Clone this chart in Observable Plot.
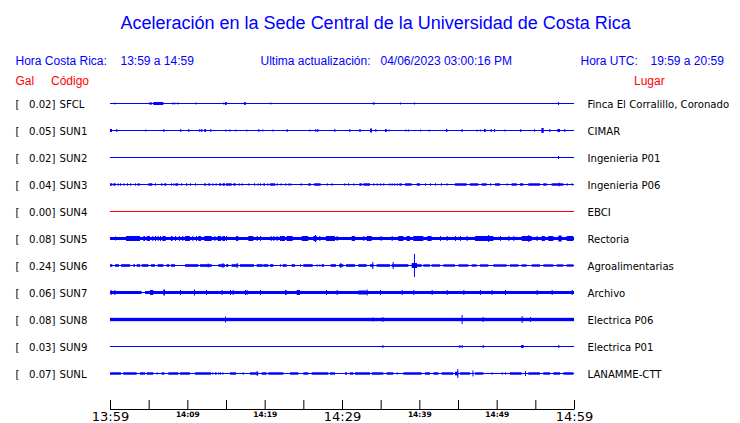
<!DOCTYPE html>
<html><head><meta charset="utf-8">
<script src="https://cdn.jsdelivr.net/npm/d3@7"></script>
<script src="https://cdn.jsdelivr.net/npm/@observablehq/plot@0.6"></script>
<style>
body{margin:0;background:#fff;}
#wrap{position:relative;width:740px;height:423px;overflow:hidden;background:#fff;}
#wrap svg{position:absolute;left:0;top:0;}
.h{position:absolute;white-space:nowrap;font-family:"Liberation Sans",Arial,sans-serif;color:#0000ff;font-size:12px;line-height:1;}
.r{color:#ff0000;}
</style></head><body>
<div id="wrap"></div>
<script>
// ---------- texts ----------
const titleText = "Aceleración en la Sede Central de la Universidad de Costa Rica";
const headerTexts = ["Hora Costa Rica:", "13:59 a 14:59", "Ultima actualización:", "04/06/2023 03:00:16 PM", "Hora UTC:", "19:59 a 20:59"];
const columnTexts = ["Gal", "Código", "Lugar"];

// ---------- stations ----------
const codes  = ["SFCL","SUN1","SUN2","SUN3","SUN4","SUN5","SUN6","SUN7","SUN8","SUN9","SUNL"];
const places = ["Finca El Corralillo, Coronado","CIMAR","Ingenieria P01","Ingenieria P06","EBCI","Rectoria","Agroalimentarias","Archivo","Electrica P06","Electrica P01","LANAMME-CTT"];
const peaks  = [0.02,0.05,0.02,0.04,0.00,0.08,0.24,0.06,0.08,0.03,0.07];

// ---------- time axis (minutes after 13:59) ----------
const tickMinutes = [0,5,10,15,20,25,30,35,40,45,50,55,60];
const majorMinutes = [0,30,60];
const majorLabels = ["13:59","14:29","14:59"];
const minorMinutes = [10,20,40,50];
const minorLabels = ["14:09","14:19","14:39","14:49"];

// ---------- traces: spikes [minute, gal] and bursts [from, to, gal] ----------
const spikesSFCL = [[0.56,0.011],[5.1,0.02],[5.26,0.02],[8.06,0.011],[8.28,0.011],[8.7,0.011],[11.08,0.011],[14.65,0.011],[20.73,0.011],[34.05,0.022],[37.5,0.011],[39.31,0.011],[57.93,0.022]];
const burstsSFCL = [[5.6,6.9,0.022],[14.87,15.09,0.022],[17.33,17.55,0.022]];

const spikesSUN1 = [[0.82,0.022],[4.57,0.011],[6.9,0.022],[9.09,0.022],[10.13,0.022],[11.55,0.022],[11.81,0.022],[12.97,0.022],[14.91,0.011],[15.43,0.011],[16.2,0.011],[17.63,0.011],[19.18,0.022],[19.7,0.011],[20.99,0.011],[25.78,0.011],[26.55,0.022],[26.81,0.022],[29.01,0.022],[30.95,0.022],[34.31,0.022],[36.03,0.011],[38.19,0.011],[38.53,0.011],[40.09,0.011],[41.21,0.011],[45.47,0.022],[47.41,0.011],[47.84,0.011],[49.22,0.022],[49.66,0.022],[50.99,0.011],[53.06,0.022],[54.83,0.015],[56.81,0.022],[58.75,0.022]];
const burstsSUN1 = [[0,0.26,0.022],[12.2,12.41,0.022],[22.84,22.97,0.022],[32.24,32.41,0.022],[33.62,33.88,0.033],[35.56,35.78,0.022],[43.45,43.62,0.022],[48.36,48.58,0.022],[55.78,56.08,0.044],[57.84,58.19,0.022]];

const spikesSUN2 = [[57.93,0.022]];
const burstsSUN2 = [];

const spikesSUN3 = [[0.99,0.016],[1.29,0.016],[2.2,0.016],[3.23,0.016],[5.82,0.016],[7.89,0.016],[8.19,0.016],[9.18,0.016],[10.34,0.016],[10.99,0.016],[13.23,0.016],[13.66,0.016],[16.64,0.016],[17.03,0.016],[17.89,0.016],[18.62,0.016],[19.09,0.016],[19.4,0.016],[20.34,0.016],[21.55,0.016],[22.67,0.016],[23.06,0.016],[23.32,0.016],[24.66,0.016],[28.02,0.016],[28.66,0.016],[30.3,0.016],[30.78,0.016],[31.47,0.016],[34.05,0.016],[34.48,0.016],[34.91,0.016],[35.34,0.016],[36.12,0.016],[36.42,0.016],[36.72,0.016],[37.07,0.016],[40.73,0.016],[41.38,0.016],[42.03,0.016],[42.8,0.016],[43.53,0.016],[49.14,0.016],[51.29,0.016],[58.02,0.03],[59.05,0.016],[59.7,0.016]];
const burstsSUN3 = [[0,0.3,0.016],[0.43,0.73,0.016],[1.72,1.85,0.016],[2.59,2.72,0.016],[3.58,3.84,0.016],[4.96,5.47,0.016],[6.59,6.77,0.016],[7.03,7.28,0.016],[8.45,8.84,0.016],[9.83,10.0,0.016],[12.2,12.41,0.016],[12.72,12.93,0.016],[14.09,14.35,0.016],[14.53,14.87,0.016],[15.0,15.73,0.016],[15.95,16.25,0.016],[19.83,20.04,0.016],[20.69,21.34,0.016],[22.07,22.2,0.016],[25.65,25.95,0.016],[26.38,27.24,0.016],[32.24,32.59,0.016],[32.76,33.62,0.016],[37.41,37.72,0.016],[38.15,39.01,0.016],[39.66,40.09,0.016],[44.61,46.12,0.016],[46.55,47.63,0.016],[48.06,48.71,0.016],[49.78,50.43,0.016],[51.94,52.59,0.016],[53.02,53.45,0.016],[54.09,55.6,0.016],[56.03,56.47,0.016],[57.11,58.62,0.016]];

const spikesSUN4 = [];
const burstsSUN4 = [];

const spikesSUN5 = [[0.65,0.033],[5.47,0.044],[5.82,0.044],[6.16,0.044],[6.47,0.044],[8.41,0.044],[8.92,0.044],[9.35,0.044],[10.65,0.044],[11.12,0.044],[13.49,0.044],[15,0.044],[18.97,0.044],[19.4,0.044],[20.78,0.044],[21.12,0.044],[21.55,0.044],[26.51,0.067],[27.07,0.044],[29.31,0.044],[32.76,0.044],[35,0.044],[36.42,0.044],[42.67,0.044],[43.53,0.044],[44.61,0.044],[45.26,0.044],[46.12,0.044],[48.9,0.067],[50.43,0.044],[51.51,0.044],[52.16,0.044],[54.09,0.067],[55.17,0.044]];
const burstsSUN5 = [[0,60,0.022],[2.07,3.88,0.044],[4.31,4.53,0.044],[4.74,5.17,0.044],[6.77,7.2,0.044],[7.89,8.1,0.044],[9.7,10.34,0.044],[11.42,11.77,0.044],[12.2,13.15,0.044],[13.92,14.35,0.044],[14.53,14.87,0.044],[16.29,16.59,0.044],[17.89,18.53,0.044],[21.98,22.63,0.044],[22.84,23.62,0.044],[24.78,25.65,0.044],[26.29,26.72,0.044],[27.93,29.09,0.044],[31.25,31.68,0.044],[33.19,33.84,0.044],[37.28,37.93,0.044],[38.36,38.79,0.044],[39.22,40.52,0.044],[41.03,41.59,0.044],[47.2,49.57,0.044],[53.23,54.53,0.044],[55.82,56.25,0.044],[56.68,57.33,0.044],[57.97,58.41,0.055],[59.05,59.91,0.044]];

const spikesSUN6 = [[12.63,0.033],[14.53,0.044],[16.38,0.044],[21.98,0.016],[24.57,0.016],[26.72,0.016],[27.07,0.016],[29.78,0.044],[33.92,0.067],[36.55,0.067],[39.31,0.244]];
const burstsSUN6 = [[0,0.3,0.018],[0.65,1.16,0.018],[1.42,2.59,0.018],[3.02,3.23,0.018],[3.45,3.88,0.018],[4.09,4.96,0.018],[5.3,5.82,0.018],[6.16,6.9,0.018],[7.33,7.67,0.018],[7.89,8.41,0.018],[9.7,11.42,0.018],[11.64,13.15,0.018],[14.01,14.87,0.018],[15,15.3,0.018],[15.73,16.59,0.018],[16.81,18.62,0.018],[18.97,19.74,0.018],[19.83,20.47,0.018],[20.69,21.12,0.018],[22.33,22.84,0.018],[23.49,23.92,0.018],[25,26.21,0.018],[27.37,27.67,0.018],[28.53,29.22,0.018],[29.61,30.17,0.018],[30.52,31.68,0.018],[32.11,33.19,0.018],[33.62,34.05,0.018],[34.48,36.21,0.018],[36.42,38.58,0.018],[39.01,39.7,0.044],[39.7,40.3,0.018],[40.52,41.38,0.015],[41.59,42.67,0.015],[43.1,44.61,0.015],[45.04,46.34,0.015],[46.77,47.41,0.015],[47.84,48.92,0.015],[49.57,51.29,0.015],[51.72,52.8,0.015],[53.23,53.88,0.015],[54.53,55.6,0.015],[56.03,57.33,0.015],[57.76,58.62,0.015],[59.05,59.91,0.015]];

const spikesSUN7 = [[0.09,0.044],[0.56,0.044],[9.05,0.044],[10.86,0.055],[12.41,0.044],[14.44,0.044],[15.52,0.044],[15.86,0.044],[17.46,0.044],[17.67,0.044],[19.4,0.044],[27.93,0.044],[29.31,0.044],[33.19,0.055],[34.91,0.044],[37.72,0.044],[39.22,0.044],[41.59,0.044],[43.53,0.044],[45.69,0.044],[47.84,0.044],[49.35,0.044],[51.08,0.044],[55.17,0.044],[57.11,0.044],[59.7,0.044]];
const burstsSUN7 = [[0,4.09,0.022],[4.53,60,0.022],[5.17,5.6,0.044],[6.9,7.11,0.055],[22.63,22.84,0.044],[24.14,24.57,0.044],[32.11,33.19,0.033]];

const spikesSUN8 = [[14.87,0.055],[33.92,0.033],[35.22,0.044],[45.47,0.09],[48.19,0.044],[53.23,0.067],[54.31,0.044]];
const burstsSUN8 = [[0,60,0.026]];

const spikesSUN9 = [[35.22,0.022],[45.17,0.022],[45.47,0.022],[48.19,0.022],[57.97,0.022]];
const burstsSUN9 = [[53.15,53.49,0.022]];

const spikesSUNL = [[6.03,0.016],[13.23,0.016],[14.01,0.016],[14.22,0.016],[14.53,0.016],[17.16,0.016],[18.97,0.044],[30.39,0.016],[30.52,0.016],[37.07,0.016],[44.91,0.09],[46.87,0.055],[49.35,0.016],[50.65,0.016],[51.08,0.016],[53.66,0.044]];
const burstsSUNL = [[0,1.42,0.016],[1.72,3.45,0.016],[3.88,4.53,0.016],[4.74,5.6,0.016],[6.68,7.03,0.016],[7.54,8.84,0.016],[9.05,10.34,0.016],[10.99,13.06,0.016],[13.58,13.79,0.016],[15.52,16.29,0.016],[18.1,19.18,0.016],[19.61,20.26,0.016],[20.47,22.41,0.016],[23.28,24.35,0.016],[25,25.65,0.016],[26.08,28.23,0.016],[28.45,29.09,0.016],[31.03,31.47,0.016],[31.68,33.62,0.016],[33.84,35.34,0.016],[35.78,36.64,0.016],[37.93,40.3,0.016],[40.73,41.38,0.016],[41.81,42.46,0.016],[42.89,44.4,0.016],[44.61,45.04,0.03],[45.26,46.55,0.016],[47.2,48.28,0.016],[51.72,53.23,0.016],[54.09,55.6,0.016],[56.03,56.9,0.016],[57.33,58.19,0.016],[58.62,59.91,0.016]];

const spikesByStation = [spikesSFCL,spikesSUN1,spikesSUN2,spikesSUN3,spikesSUN4,spikesSUN5,spikesSUN6,spikesSUN7,spikesSUN8,spikesSUN9,spikesSUNL];
const burstsByStation = [burstsSFCL,burstsSUN1,burstsSUN2,burstsSUN3,burstsSUN4,burstsSUN5,burstsSUN6,burstsSUN7,burstsSUN8,burstsSUN9,burstsSUNL];

// ---------- build ----------
const BLUE = "#0000ff", RED = "#ff0000";
const rowPx = 27;                 // row spacing in pixels
const galPerRow = 0.6;            // vertical trace scale: one row spacing = 0.6 gal
const lineHalf = 0.5 / rowPx;     // half a 1px trace line, in row units
const axisRow = (409 - 103.5) / rowPx;  // axis line just under the last row
const tickRows = 9 / rowPx;       // tick length

const stations = codes.map((c, i) => ({i, code: c, place: places[i], peak: peaks[i]}));
const spikeRows = spikesByStation.flatMap((arr, i) => arr.map(([t, a]) => ({i, t, a})));
const burstRows = burstsByStation.flatMap((arr, i) => arr.map(([t0, t1, a]) => ({i, t0, t1, a})));
const colorOf = i => peaks[i] === 0 ? RED : BLUE;
const fmt = v => v.toFixed(2) + "]";
const lo = d => d.i - d.a / galPerRow - lineHalf;
const hi = d => d.i + d.a / galPerRow + lineHalf;

const rowFont = "'DejaVu Sans Condensed','DejaVu Sans',sans-serif";
const rowSize = 11.25;

const chart = Plot.plot({
  width: 740, height: 423,
  marginLeft: 110, marginRight: 166, marginTop: 90, marginBottom: 14,
  x: {domain: [0, 60], axis: null},
  y: {domain: [0, 10], range: [103.5, 373.5], axis: null},
  style: {background: "transparent"},
  marks: [
    // base trace lines (1px)
    Plot.rect(stations, {x1: 0, x2: 60, y1: d => d.i - lineHalf, y2: d => d.i + lineHalf, fill: d => colorOf(d.i)}),
    // noise bursts / bands
    Plot.rect(burstRows, {x1: "t0", x2: "t1", y1: lo, y2: hi, fill: d => colorOf(d.i)}),
    // spikes
    Plot.ruleX(spikeRows, {x: "t", y1: lo, y2: hi, stroke: d => colorOf(d.i), strokeWidth: 1}),
    // time axis
    Plot.ruleY([axisRow], {x1: 0, x2: 60, stroke: "black"}),
    Plot.ruleX(tickMinutes, {x: d => d, y1: axisRow - tickRows, y2: axisRow + lineHalf, stroke: "black"}),
    Plot.text(majorMinutes, {x: d => d, y: axisRow, text: (d, k) => majorLabels[k], lineAnchor: "top", dy: 2,
      fontSize: 13, fontFamily: "'DejaVu Sans',sans-serif", fill: "black"}),
    Plot.text(minorMinutes, {x: d => d, y: axisRow, text: (d, k) => minorLabels[k], lineAnchor: "top", dy: 2,
      fontSize: 7.5, fontWeight: "bold", fontFamily: "'DejaVu Sans',sans-serif", fill: "black"}),
    // left labels
    Plot.text(stations, {y: "i", frameAnchor: "left", dx: -95, text: () => "[", textAnchor: "start",
      fontSize: rowSize, fontFamily: rowFont, fill: "black"}),
    Plot.text(stations, {y: "i", frameAnchor: "left", dx: -55, text: d => fmt(d.peak), textAnchor: "end",
      fontSize: rowSize, fontFamily: rowFont, fill: "black"}),
    Plot.text(stations, {y: "i", frameAnchor: "left", dx: -51, text: "code", textAnchor: "start",
      fontSize: rowSize, fontFamily: rowFont, fill: "black"}),
    // right labels
    Plot.text(stations, {y: "i", frameAnchor: "right", dx: 13, text: "place", textAnchor: "start",
      fontSize: rowSize, fontFamily: rowFont, fill: "black"})
  ]
});

const wrap = document.getElementById("wrap");
wrap.appendChild(chart);

// header (HTML text above the traces)
function addText(txt, left, baseline, size, cls) {
  const d = document.createElement("div");
  d.className = "h " + (cls || "");
  d.textContent = txt;
  d.style.left = left + "px";
  d.style.fontSize = size + "px";
  d.style.top = (baseline - 0.8465 * size) + "px";
  wrap.appendChild(d);
}
addText(titleText, 120.5, 29.3, 18);
addText(headerTexts[0], 15.5, 65, 12);
addText(headerTexts[1], 120.5, 65, 12);
addText(headerTexts[2], 260.5, 65, 12);
addText(headerTexts[3], 380.5, 65, 12);
addText(headerTexts[4], 580.5, 65, 12);
addText(headerTexts[5], 650.5, 65, 12);
addText(columnTexts[0], 15.5, 85, 12, "r");
addText(columnTexts[1], 51, 85, 12, "r");
addText(columnTexts[2], 634, 85, 12, "r");
</script>
</body></html>
